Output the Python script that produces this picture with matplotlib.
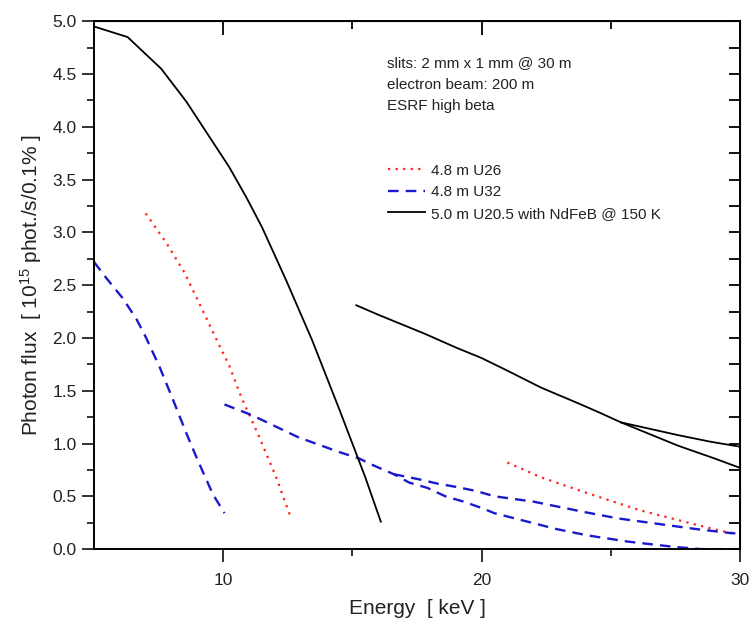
import matplotlib
matplotlib.use('Agg')
import matplotlib.pyplot as plt
from matplotlib.ticker import MultipleLocator, FixedLocator

plt.rcParams['font.family'] = ['Liberation Sans', 'DejaVu Sans']
plt.rcParams['mathtext.fontset'] = 'custom'
plt.rcParams['mathtext.rm'] = 'Liberation Sans'
plt.rcParams['mathtext.it'] = 'Liberation Sans:italic'

# ---------------------------------------------------------------------------
# Data
# ---------------------------------------------------------------------------

# 4.8 m U26 (red dotted)
u26_h1_e = [7.0, 7.8, 8.5, 9.07, 9.85, 10.23, 10.7, 11.4, 12.05, 12.63]
u26_h1_f = [3.18, 2.90, 2.62, 2.33, 1.93, 1.74, 1.44, 1.06, 0.68, 0.29]
u26_h3_e = [21.0, 22.3, 24.1, 26.1, 28.0, 29.3, 29.8]
u26_h3_f = [0.82, 0.68, 0.53, 0.37, 0.25, 0.17, 0.15]

# 4.8 m U32 (blue dashed)
u32_h1_e = [5.0, 5.5, 6.1, 6.64, 7.0, 7.53, 8.0, 8.57, 9.0, 9.6, 10.05]
u32_h1_f = [2.72, 2.56, 2.38, 2.18, 2.01, 1.73, 1.45, 1.10, 0.85, 0.52, 0.34]
u32_h3_e = [10.05, 11.1, 12.9, 14.48, 15.25, 15.75, 16.6, 17.2, 17.9, 18.6,
            19.3, 20.0, 20.5, 22.9, 24.1, 25.7, 27.5, 28.5, 30.0]
u32_h3_f = [1.37, 1.27, 1.06, 0.92, 0.86, 0.80, 0.71, 0.63, 0.58, 0.50,
            0.45, 0.39, 0.34, 0.19, 0.13, 0.07, 0.02, 0.0, 0.0]
u32_h5_e = [16.6, 17.6, 18.3, 19.0, 19.8, 20.5, 22.0, 23.0, 24.0, 25.3,
            26.8, 28.3, 29.7, 30.0]
u32_h5_f = [0.71, 0.66, 0.62, 0.59, 0.55, 0.50, 0.45, 0.40, 0.35, 0.29,
            0.24, 0.19, 0.15, 0.15]

# 5.0 m U20.5 with NdFeB @ 150 K (black solid)
u205_h1_e = [5.0, 6.3, 7.6, 8.57, 9.4, 10.23, 10.9, 11.5, 12.43, 13.44,
             14.5, 15.5, 16.1]
u205_h1_f = [4.95, 4.85, 4.55, 4.24, 3.93, 3.62, 3.33, 3.05, 2.55, 1.98,
             1.32, 0.68, 0.26]
u205_h3_e = [15.15, 16.0, 17.8, 19.0, 20.0, 21.0, 22.3, 23.75, 24.5, 25.4,
             26.5, 27.6, 29.0, 30.0]
u205_h3_f = [2.31, 2.22, 2.04, 1.91, 1.81, 1.69, 1.53, 1.38, 1.30, 1.20,
             1.09, 0.98, 0.86, 0.77]
u205_h5_e = [25.4, 27.6, 28.8, 30.0]
u205_h5_f = [1.20, 1.08, 1.02, 0.97]

labels = ['4.8 m U26', '4.8 m U32', '5.0 m U20.5 with NdFeB @ 150 K']
notes = ['slits: 2 mm x 1 mm @ 30 m', 'electron beam: 200 m', 'ESRF high beta']

# ---------------------------------------------------------------------------
# Plot
# ---------------------------------------------------------------------------

fig = plt.figure(figsize=(7.52, 6.24), dpi=100)
ax = fig.add_axes([0.125, 0.120, 0.859, 0.846])

RED = '#ff2020'
BLUE = '#1a1acc'
dot = (0, (1, 2.4))
dash = (0, (4.5, 3))

l1, = ax.plot(u26_h1_e, u26_h1_f, color=RED, lw=1.6, linestyle=dot)
ax.plot(u26_h3_e, u26_h3_f, color=RED, lw=1.6, linestyle=dot)

l2, = ax.plot(u32_h1_e, u32_h1_f, color=BLUE, lw=1.7, linestyle=dash)
ax.plot(u32_h3_e, u32_h3_f, color=BLUE, lw=1.7, linestyle=dash)
ax.plot(u32_h5_e, u32_h5_f, color=BLUE, lw=1.7, linestyle=dash)

l3, = ax.plot(u205_h1_e, u205_h1_f, color='black', lw=1.3)
ax.plot(u205_h3_e, u205_h3_f, color='black', lw=1.3)
ax.plot(u205_h5_e, u205_h5_f, color='black', lw=1.3)

ax.set_xlim(5, 30)
ax.set_ylim(0, 5)

ax.xaxis.set_major_locator(FixedLocator([10, 20, 30]))
ax.xaxis.set_minor_locator(FixedLocator([15, 25]))
ax.yaxis.set_major_locator(MultipleLocator(0.5))
ax.yaxis.set_minor_locator(MultipleLocator(0.25))
ax.yaxis.set_major_formatter(plt.FormatStrFormatter('%.1f'))

for sp in ax.spines.values():
    sp.set_linewidth(1.4)
ax.tick_params(which='both', direction='out', width=1.3, labelsize=12.5,
               colors='#222222')
ax.tick_params(which='major', length=9)
ax.tick_params(which='minor', length=5)
ax.tick_params(axis='x', pad=8)

# mirrored inward ticks on top and right
top = ax.secondary_xaxis('top')
top.xaxis.set_major_locator(FixedLocator([10, 20]))
top.xaxis.set_minor_locator(FixedLocator([15, 25]))
top.tick_params(which='both', direction='in', width=1.3, labeltop=False)
top.tick_params(which='major', length=10)
top.tick_params(which='minor', length=6)
right = ax.secondary_yaxis('right')
right.yaxis.set_major_locator(MultipleLocator(0.25))
right.yaxis.set_minor_locator(MultipleLocator(0.25))
right.tick_params(which='both', direction='in', width=1.3, length=8,
                  labelright=False)

ax.set_xlabel('Energy  [ keV ]', fontsize=15, labelpad=8, color='#222222')
ax.set_ylabel('Photon flux  [ 10$^{15}$ phot./s/0.1% ]', fontsize=15,
              labelpad=6, color='#222222')

for i, t in enumerate(notes):
    ax.text(0.454, 0.920 - i * 0.040, t, transform=ax.transAxes,
            fontsize=11, va='center', color='#222222')

ax.legend([l1, l2, l3], labels, loc='upper left',
          bbox_to_anchor=(0.446, 0.742), frameon=False, fontsize=11,
          handlelength=2.4, handletextpad=0.4, labelspacing=0.5,
          borderaxespad=0, labelcolor='#222222')

fig.savefig('out.png', dpi=100)
